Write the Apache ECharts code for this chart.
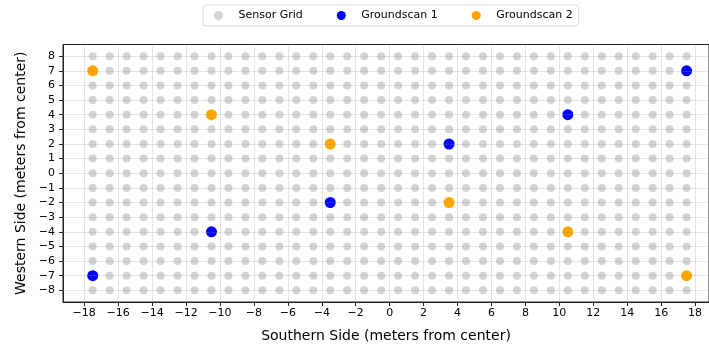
<!DOCTYPE html>
<html>
<head>
<meta charset="utf-8">
<script src="https://cdn.jsdelivr.net/npm/echarts@6/dist/echarts.min.js"></script>
<style>html,body{margin:0;padding:0;background:#fff}#c{width:709px;height:348px}</style>
</head>
<body>
<div id="c"></div>
<script>
// Sensor grid positions (meters from center)
const gridX = [-17.5,-16.5,-15.5,-14.5,-13.5,-12.5,-11.5,-10.5,-9.5,-8.5,-7.5,-6.5,-5.5,-4.5,-3.5,-2.5,-1.5,-0.5,
               0.5,1.5,2.5,3.5,4.5,5.5,6.5,7.5,8.5,9.5,10.5,11.5,12.5,13.5,14.5,15.5,16.5,17.5];
const gridY = [-8,-7,-6,-5,-4,-3,-2,-1,0,1,2,3,4,5,6,7,8];

// Groundscan points
const scan1X = [-17.5,-10.5,-3.5,3.5,10.5,17.5];
const scan1Y = [-7,-4,-2,2,4,7];
const scan2X = [-17.5,-10.5,-3.5,3.5,10.5,17.5];
const scan2Y = [7,4,2,-2,-4,-7];

// Tick labels
const xTicks = [-18,-16,-14,-12,-10,-8,-6,-4,-2,0,2,4,6,8,10,12,14,16,18];
const yTicks = [-8,-7,-6,-5,-4,-3,-2,-1,0,1,2,3,4,5,6,7,8];

const gridData = [];
gridX.forEach(x => gridY.forEach(y => gridData.push([x, y])));
const s1 = scan1X.map((x, i) => [x, scan1Y[i]]);
const s2 = scan2X.map((x, i) => [x, scan2Y[i]]);

const fmt = v => (v < 0 ? '\u2212' + Math.abs(v) : String(v));
const FONT = 'DejaVu Sans';
const GRIDCOL = 'rgba(150,150,150,0.25)';

const chart = echarts.init(document.getElementById('c'), null, {renderer: 'canvas'});
chart.setOption({
  animation: false,
  textStyle: {fontFamily: FONT},
  legend: {
    top: 5, left: 203,
    padding: [5, 6, 5, 11],
    itemWidth: 30, itemHeight: 9, itemGap: 34,
    icon: 'circle',
    borderColor: '#d9d9d9', borderWidth: 1, borderRadius: 3,
    textStyle: {fontFamily: FONT, fontSize: 11, color: '#000'},
    data: ['Sensor Grid', 'Groundscan 1', 'Groundscan 2']
  },
  grid: {
    left: 63, right: -2, top: 44.5, bottom: 46,
    show: true, borderColor: '#222', borderWidth: 1, backgroundColor: 'transparent'
  },
  xAxis: {
    type: 'value', min: -19.25, max: 18.82,
    name: 'Southern Side (meters from center)', nameLocation: 'middle', nameGap: 27,
    nameTextStyle: {fontFamily: FONT, fontSize: 14, color: '#000'},
    axisLine: {show: true, onZero: false, lineStyle: {color: '#222'}},
    axisTick: {show: true, length: 4, customValues: xTicks, lineStyle: {color: '#222'}},
    axisLabel: {customValues: xTicks, formatter: fmt, margin: 6, fontFamily: FONT, fontSize: 11, color: '#000'},
    splitLine: {show: false}
  },
  yAxis: {
    type: 'value', min: -8.8, max: 8.8,
    name: 'Western Side (meters from center)', nameLocation: 'middle', nameGap: 34,
    nameTextStyle: {fontFamily: FONT, fontSize: 14, color: '#000'},
    axisLine: {show: true, onZero: false, lineStyle: {color: '#222'}},
    axisTick: {show: true, length: 4, customValues: yTicks, lineStyle: {color: '#222'}},
    axisLabel: {customValues: yTicks, formatter: fmt, margin: 8, fontFamily: FONT, fontSize: 11, color: '#000'},
    splitLine: {show: false}
  },
  series: [
    {name: 'gridlines', type: 'scatter', data: [], z: 1, silent: true,
     markLine: {
       silent: true, symbol: ['none', 'none'], animation: false,
       label: {show: false},
       lineStyle: {color: GRIDCOL, width: 1, type: 'solid'},
       emphasis: {disabled: true},
       data: xTicks.map(v => ({xAxis: v})).concat(yTicks.map(v => ({yAxis: v})))
     }},
    {name: 'Sensor Grid', type: 'scatter', data: gridData, symbolSize: 8,
     itemStyle: {color: '#d3d3d3', opacity: 1}, z: 2},
    {name: 'Groundscan 1', type: 'scatter', data: s1, symbolSize: 11,
     itemStyle: {color: '#0000ff', opacity: 1}, z: 3},
    {name: 'Groundscan 2', type: 'scatter', data: s2, symbolSize: 11,
     itemStyle: {color: '#ffa500', opacity: 1}, z: 3}
  ]
});
</script>
</body>
</html>
